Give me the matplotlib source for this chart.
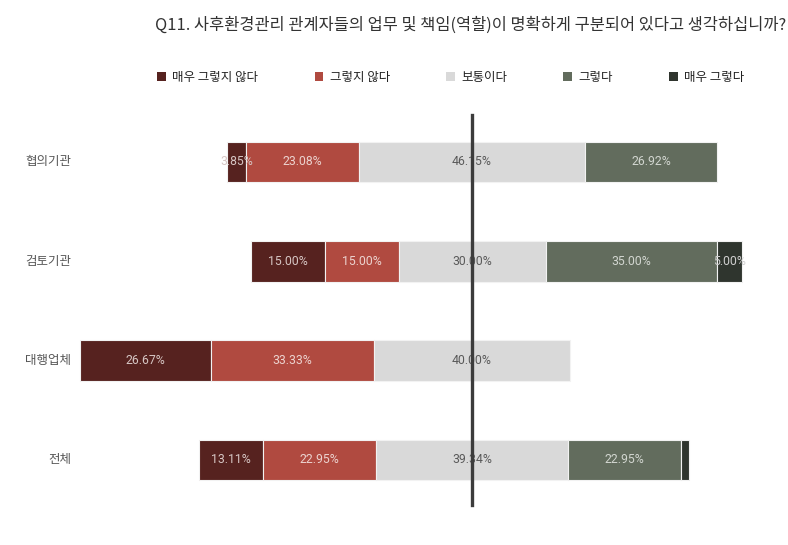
import matplotlib
matplotlib.use('Agg')
import matplotlib.pyplot as plt
from matplotlib.patches import Patch

plt.rcParams['font.family'] = ['Noto Sans CJK KR', 'DejaVu Sans']

# Data (percent)
categories = ['협의기관', '검토기관', '대행업체', '전체']
levels = ['매우 그렇지 않다', '그렇지 않다', '보통이다', '그렇다', '매우 그렇다']
very_no = [3.85, 15.00, 26.67, 13.11]
no = [23.08, 15.00, 33.33, 22.95]
neutral = [46.15, 30.00, 40.00, 39.34]
yes = [26.92, 35.00, 0.0, 22.95]
very_yes = [0.0, 5.00, 0.0, 1.64]

colors = ['#56221f', '#b04a40', '#d9d9d9', '#626c5d', '#2f352e']
text_colors = ['#d6c6c4', '#ecd3cf', '#5a5a5a', '#d2d6d0', '#cfcfcf']
title = 'Q11. 사후환경관리 관계자들의 업무 및 책임(역할)이 명확하게 구분되어 있다고 생각하십니까?'

W, H = 788, 545
fig = plt.figure(figsize=(W / 100, H / 100), dpi=100)
ax = fig.add_axes([0, 0, 1, 1])

# pixel mapping: center line at 472 px, ~4.9 px per percent; rows ~99 px apart
cx, scale = 472, 4.9
ax.set_xlim(-cx / scale, (W - cx) / scale)
y0, dy = 162, 99.3
ax.set_ylim((H - y0) / dy, -y0 / dy)
ax.axis('off')

series = [very_no, no, neutral, yes, very_yes]
for i, cat in enumerate(categories):
    left = -(very_no[i] + no[i] + neutral[i] / 2)
    for k, s in enumerate(series):
        v = s[i]
        if v <= 0:
            continue
        ax.barh(i, v, left=left, height=0.41, color=colors[k],
                edgecolor='#f2f2f2', linewidth=0.8)
        if v >= 3:
            ax.text(left + v / 2, i, f'{v:.2f}%', ha='center', va='center',
                    fontsize=8.8, color=text_colors[k], family=['Roboto', 'DejaVu Sans'])
        left += v
    ax.text(71 / W, 1 - (y0 + dy * i) / H, cat, transform=ax.transAxes,
            ha='right', va='center', fontsize=9, color='#555555')

# center line
ax.plot([0, 0], [(115 - y0) / dy, (505 - y0) / dy], color='#3c3c3c', lw=2.4, zorder=5)

fig.text(155 / W, 1 - 25 / H, title, ha='left', va='center', fontsize=11.8,
         color='#333333', weight='medium')

handles = [Patch(facecolor=c, edgecolor='none') for c in colors]
fig.legend(handles, levels, loc='center left', bbox_to_anchor=(146 / W, 1 - 77 / H),
           ncol=5, frameon=False, fontsize=9, handlelength=0.7, handleheight=0.7,
           handletextpad=0.5, columnspacing=4.5, labelcolor='#222222')

fig.savefig('out.png', dpi=100, facecolor='white')
